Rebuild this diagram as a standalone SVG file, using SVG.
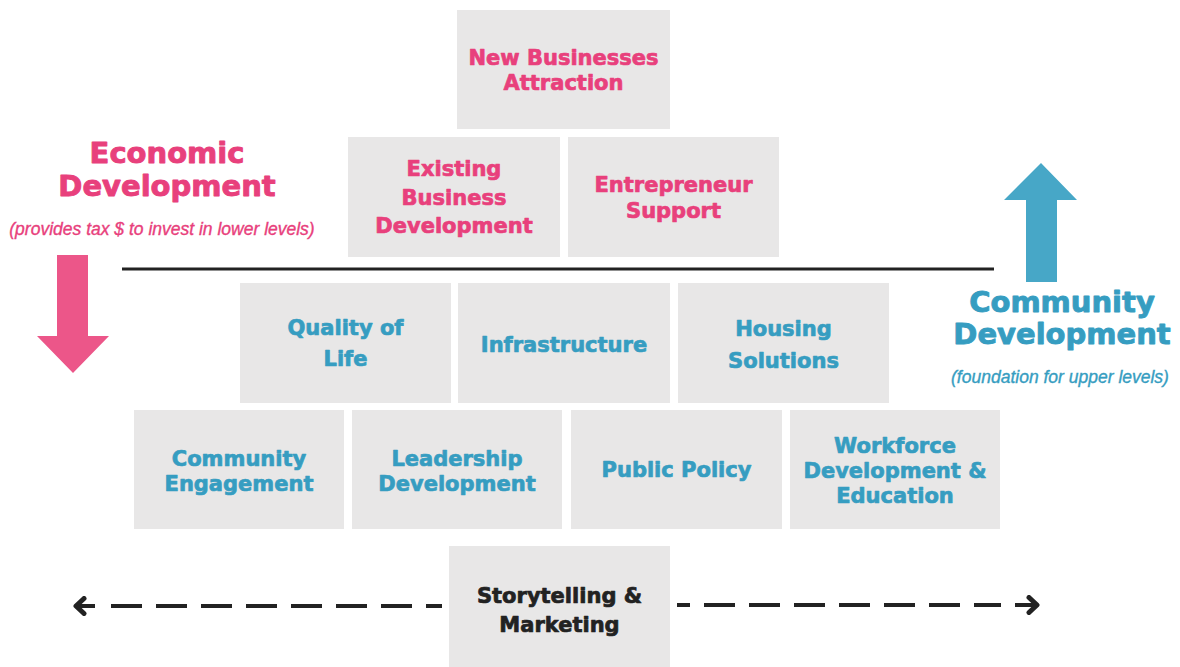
<svg xmlns="http://www.w3.org/2000/svg" width="1180" height="667" viewBox="0 0 1180 667">
  <defs>
    <style>
      .box { fill: #e8e7e7; }
      .t { font-family: "DejaVu Sans", "Liberation Sans", sans-serif; font-weight: bold; font-size: 21px; text-anchor: middle; stroke-width: 0.7px; stroke-linejoin: round; }
      .pink { fill: #e8407c; stroke: #e8407c; }
      .blue { fill: #369dc1; stroke: #369dc1; }
      .dark { fill: #222222; stroke: #222222; }
      .title { font-family: "DejaVu Sans", "Liberation Sans", sans-serif; font-weight: bold; font-size: 29px; text-anchor: middle; stroke-width: 0.9px; stroke-linejoin: round; }
      .sub { font-family: "Liberation Sans", Arial, sans-serif; font-style: italic; font-size: 17.5px; text-anchor: middle; stroke-width: 0.35px; }
      .dash { fill: none; stroke: #222222; stroke-width: 4; stroke-dasharray: 31 14; }
      .stem { fill: none; stroke: #222222; stroke-width: 4; }
    </style>
    <marker id="chev" viewBox="-12 -10 14 20" refX="0" refY="0" markerWidth="14" markerHeight="20" markerUnits="userSpaceOnUse" orient="auto">
      <path d="M-9,-7.5 L-1,0 L-9,7.5" fill="none" stroke="#222222" stroke-width="5" stroke-linecap="round" stroke-linejoin="round"/>
    </marker>
  </defs>

  <rect width="1180" height="667" fill="#ffffff"/>

  <!-- Economic development label -->
  <g id="economic-development">
    <text class="title pink" x="167" y="163">Economic</text>
    <text class="title pink" x="167" y="196">Development</text>
    <text class="sub pink" x="162" y="235">(provides tax $ to invest in lower levels)</text>
    <polygon points="57,255 88,255 88,336 109,336 73,373 37,336 57,336" fill="#ec5689"/>
  </g>

  <!-- Community development label -->
  <g id="community-development">
    <polygon points="1041,163 1077,200 1057,200 1057,282 1026,282 1026,200 1004,200" fill="#47a7c7"/>
    <text class="title blue" x="1062" y="312">Community</text>
    <text class="title blue" x="1062" y="344">Development</text>
    <text class="sub blue" x="1060" y="383">(foundation for upper levels)</text>
  </g>

  <!-- Connectors -->
  <g id="connectors">
    <line x1="122" y1="269" x2="994" y2="269" stroke="#222222" stroke-width="3"/>
    <path class="dash" d="M442,606 H111" stroke-dashoffset="15"/>
    <path class="stem" d="M95,606 H75" marker-end="url(#chev)"/>
    <path class="dash" d="M677,605 H1001" stroke-dashoffset="18"/>
    <path class="stem" d="M1015,605 H1038" marker-end="url(#chev)"/>
  </g>

  <!-- Top tier -->
  <g id="new-businesses-attraction">
    <rect class="box" x="457" y="10" width="213" height="119"/>
    <text class="t pink" x="563.5" y="65">New Businesses</text>
    <text class="t pink" x="563.5" y="90">Attraction</text>
  </g>
  <g id="existing-business-development">
    <rect class="box" x="348" y="137" width="212" height="120"/>
    <text class="t pink" x="454" y="176">Existing</text>
    <text class="t pink" x="454" y="205">Business</text>
    <text class="t pink" x="454" y="233">Development</text>
  </g>
  <g id="entrepreneur-support">
    <rect class="box" x="568" y="137" width="211" height="120"/>
    <text class="t pink" x="673.5" y="192">Entrepreneur</text>
    <text class="t pink" x="673.5" y="218">Support</text>
  </g>

  <!-- Community tiers -->
  <g id="quality-of-life">
    <rect class="box" x="240" y="283" width="211" height="120"/>
    <text class="t blue" x="345.5" y="335">Quality of</text>
    <text class="t blue" x="345.5" y="366">Life</text>
  </g>
  <g id="infrastructure">
    <rect class="box" x="458" y="283" width="212" height="120"/>
    <text class="t blue" x="564" y="352">Infrastructure</text>
  </g>
  <g id="housing-solutions">
    <rect class="box" x="678" y="283" width="211" height="120"/>
    <text class="t blue" x="783.5" y="336">Housing</text>
    <text class="t blue" x="783.5" y="368">Solutions</text>
  </g>
  <g id="community-engagement">
    <rect class="box" x="134" y="410" width="210" height="119"/>
    <text class="t blue" x="239" y="466">Community</text>
    <text class="t blue" x="239" y="491">Engagement</text>
  </g>
  <g id="leadership-development">
    <rect class="box" x="352" y="410" width="210" height="119"/>
    <text class="t blue" x="457" y="466">Leadership</text>
    <text class="t blue" x="457" y="491">Development</text>
  </g>
  <g id="public-policy">
    <rect class="box" x="571" y="410" width="211" height="119"/>
    <text class="t blue" x="676.5" y="477">Public Policy</text>
  </g>
  <g id="workforce-development-education">
    <rect class="box" x="790" y="410" width="210" height="119"/>
    <text class="t blue" x="895" y="453">Workforce</text>
    <text class="t blue" x="895" y="478">Development &amp;</text>
    <text class="t blue" x="895" y="503">Education</text>
  </g>

  <!-- Foundation -->
  <g id="storytelling-marketing">
    <rect class="box" x="449" y="546" width="221" height="121"/>
    <text class="t dark" x="559.5" y="603">Storytelling &amp;</text>
    <text class="t dark" x="559.5" y="632">Marketing</text>
  </g>
</svg>
